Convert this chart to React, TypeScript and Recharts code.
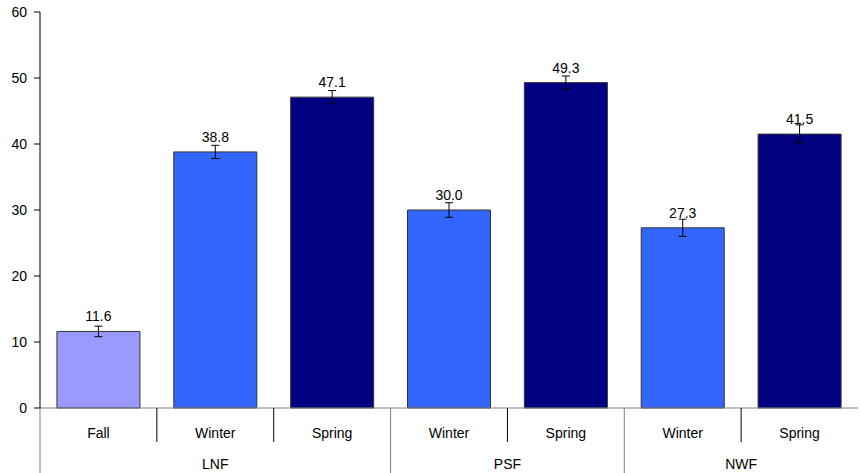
import { BarChart, Bar, XAxis, YAxis, ErrorBar, LabelList, Cell } from 'recharts';

const seasons = ['Fall', 'Winter', 'Spring', 'Winter', 'Spring', 'Winter', 'Spring'];
const sites = ['LNF', 'LNF', 'LNF', 'PSF', 'PSF', 'NWF', 'NWF'];
const means = [11.6, 38.8, 47.1, 30.0, 49.3, 27.3, 41.5];
const errors = [0.8, 1.0, 1.0, 1.1, 1.0, 1.3, 1.4];
const yTicks = [0, 10, 20, 30, 40, 50, 60];

const seasonColors: Record<string, string> = {
  Fall: '#9999FF',
  Winter: '#3366FF',
  Spring: '#000080',
};

const data = seasons.map((s, i) => ({ key: i, season: s, site: sites[i], mean: means[i], err: errors[i] }));

const FONT = 'Liberation Sans, Arial, sans-serif';

// two-level category tick: season label + site group label, with separators
function TwoLevelTick(props: any) {
  const { x, y, payload, index } = props;
  const half = payload?.offset || 58.5;
  const i = index ?? payload.index;
  const left = x - half;
  const groupStart = i === 0 || sites[i] !== sites[i - 1];
  let n = 0;
  while (i + n < sites.length && sites[i + n] === sites[i]) n++;
  return (
    <g>
      <line x1={left} y1={y} x2={left} y2={groupStart ? y + 65 : y + 34} stroke={groupStart ? '#808080' : '#000'} strokeWidth={1} />
      <text x={x} y={y + 30} textAnchor="middle" fontSize={14} fontFamily={FONT} fill="#000">
        {seasons[i]}
      </text>
      {groupStart && (
        <text x={left + n * half} y={y + 61} textAnchor="middle" fontSize={14} fontFamily={FONT} fill="#000">
          {sites[i]}
        </text>
      )}
    </g>
  );
}

export default function App() {
  return (
    <div style={{ position: 'absolute', left: 0, top: 0, background: '#fff' }}>
      <BarChart
        width={861}
        height={473}
        data={data}
        margin={{ top: 12, right: 3, bottom: 0, left: 0 }}
        barCategoryGap="14.5%"
      >
        <XAxis
          dataKey="key"
          type="category"
          height={65}
          tickLine={false}
          tickSize={0}
          tickMargin={0}
          axisLine={{ stroke: '#808080' }}
          tick={<TwoLevelTick />}
          interval={0}
        />
        <YAxis
          width={40}
          domain={[0, 60]}
          ticks={yTicks}
          tickSize={6}
          tickMargin={7}
          axisLine={{ stroke: '#000' }}
          tickLine={{ stroke: '#000' }}
          tick={{ fill: '#000', fontSize: 14, fontFamily: FONT }}
        />
        <Bar dataKey="mean" stroke="#333" strokeWidth={1} isAnimationActive={false}>
          {data.map((d) => (
            <Cell key={d.key} fill={seasonColors[d.season]} />
          ))}
          <ErrorBar dataKey="err" width={4} stroke="#000" strokeWidth={1} isAnimationActive={false} />
          <LabelList
            dataKey="mean"
            position="top"
            offset={10}
            formatter={(v: any) => Number(v).toFixed(1)}
            style={{ fill: '#000', fontSize: 14, fontFamily: FONT }}
          />
        </Bar>
      </BarChart>
    </div>
  );
}
